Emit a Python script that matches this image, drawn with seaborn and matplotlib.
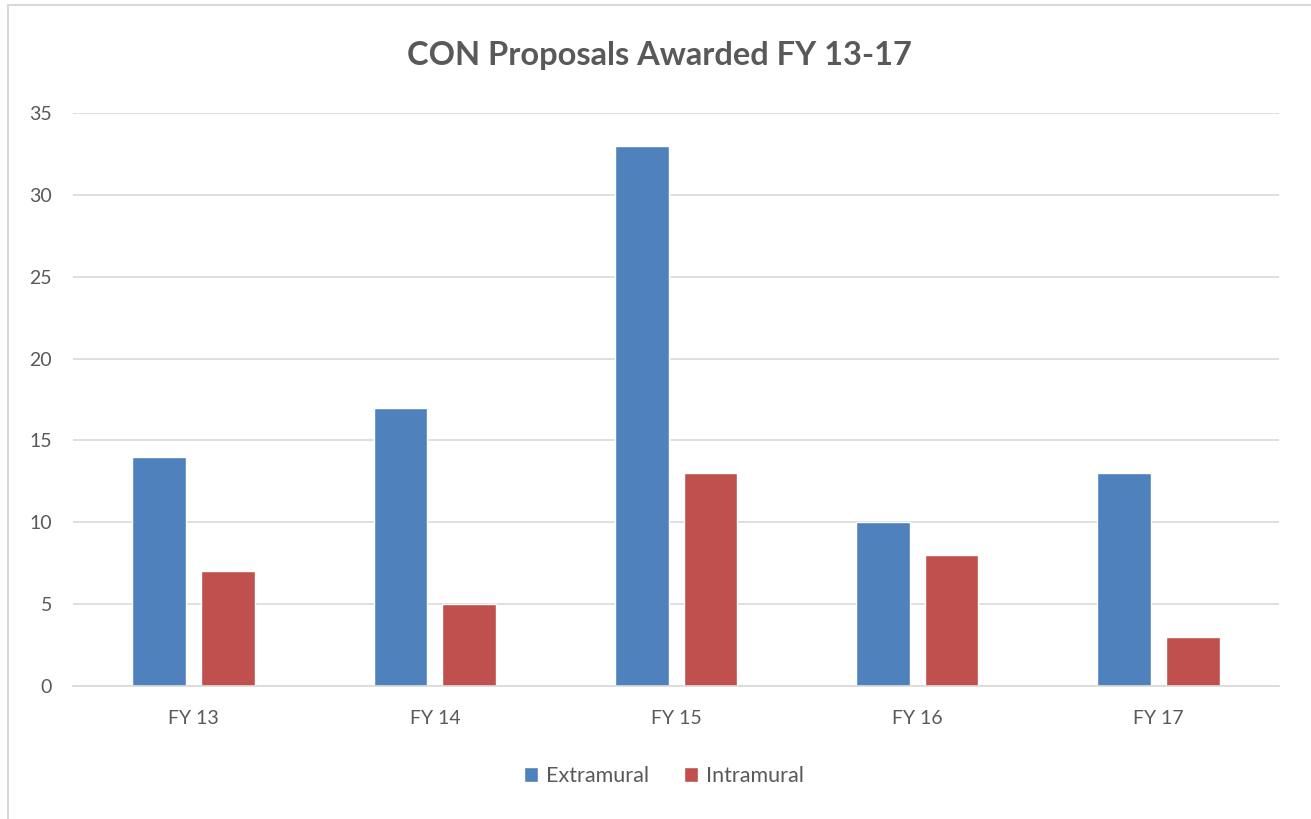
import pandas as pd
import matplotlib.pyplot as plt
import seaborn as sns
from matplotlib.patches import Rectangle

years = ['FY 13', 'FY 14', 'FY 15', 'FY 16', 'FY 17']
extramural = [14, 17, 33, 10, 13]
intramural = [7, 5, 13, 8, 3]
series_names = ['Extramural', 'Intramural']
colors = ['#4F81BD', '#C0504D']
y_ticks = [0, 5, 10, 15, 20, 25, 30, 35]

df = pd.DataFrame({
    'year': years * 2,
    'count': extramural + intramural,
    'series': [series_names[0]] * len(years) + [series_names[1]] * len(years),
})

sns.set_theme(style='white')
plt.rcParams['font.family'] = ['Lato', 'DejaVu Sans']
text_gray = '#595959'

fig = plt.figure(figsize=(13.11, 8.19), dpi=100)
ax = fig.add_axes([0.0557, 0.1624, 0.92, 0.6996])

sns.barplot(data=df, x='year', y='count', hue='series', palette=colors,
            width=0.57, gap=0.22, saturation=1, ax=ax, legend=True)

ax.set_ylim(0, 35)
ax.set_xlim(-0.5, 4.5)
ax.set_yticks(y_ticks)
ax.yaxis.grid(True, color='#D9D9D9', linewidth=1.2)
ax.set_axisbelow(True)
for s in ['top', 'right', 'left']:
    ax.spines[s].set_visible(False)
ax.spines['bottom'].set_color('#D9D9D9')
ax.spines['bottom'].set_linewidth(1.2)
ax.tick_params(axis='both', length=0, labelsize=14, colors=text_gray)
ax.tick_params(axis='y', pad=15)
ax.tick_params(axis='x', pad=17)
ax.set_xlabel('')
ax.set_ylabel('')

fig.suptitle('CON Proposals Awarded FY 13-17', x=0.503, y=0.95,
             fontsize=23.5, fontweight='bold', color=text_gray)

ax.legend(loc='center', bbox_to_anchor=(0.49, -0.157), ncol=2, frameon=False,
          fontsize=15.5, labelcolor=text_gray, handlelength=0.65, handleheight=0.65,
          handletextpad=0.4, columnspacing=1.6)

# chart border (only top and left edges visible in the crop)
fig.patches.append(Rectangle((8 / 1311, -0.1), 1.2, 1.1 - 5 / 819,
                             transform=fig.transFigure, fill=False,
                             edgecolor='#D9D9D9', linewidth=1.5))

fig.savefig('out.png', dpi=100, facecolor='white')
